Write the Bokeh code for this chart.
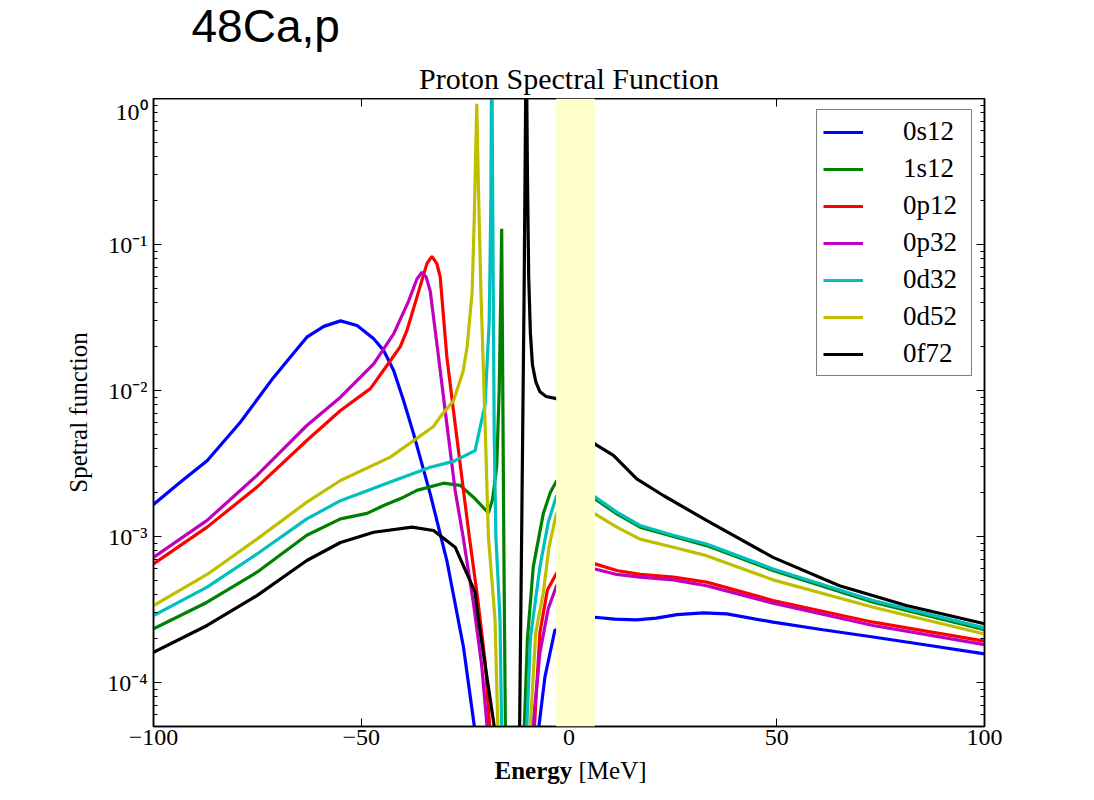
from bokeh.plotting import figure
from bokeh.layouts import column
from bokeh.models import (FixedTicker, LinearAxis, LogAxis, BoxAnnotation,
                          Legend, LegendItem, CustomJSTickFormatter)
from bokeh.core.properties import value
from bokeh.embed import file_html
from bokeh.resources import INLINE

# ---------------- data ----------------
names = ["0s12", "1s12", "0p12", "0p32", "0d32", "0d52", "0f72"]
colors = ["#0000ff", "#008000", "#ff0000", "#bf00bf", "#00bfbf", "#bfbf00", "#000000"]

e_0s12 = [-100, -93.5, -87.1, -79.1, -71.1, -67.1, -63.1, -59, -55, -51, -47, -44.6, -42.2,
          -39.8, -37.4, -33.4, -29.4, -25.4, -22.6, -15, -7.4, -5.8, -3.4, 6.25, 11, 16.3, 21,
          26, 32.3, 38, 49.1, 61.1, 73.2, 86.4, 100]
v_0s12 = [1.66e-3, 2.36e-3, 3.3e-3, 6.07e-3, 1.23e-2, 1.69e-2, 2.32e-2, 2.75e-2, 3.0e-2,
          2.79e-2, 2.26e-2, 1.88e-2, 1.37e-2, 8.5e-3, 5.05e-3, 1.96e-3, 6.85e-4, 1.75e-4,
          4.6e-5, 1e-7, 4.6e-5, 1.09e-4, 2.28e-4, 2.8e-4, 2.72e-4, 2.69e-4, 2.76e-4, 2.92e-4,
          3.0e-4, 2.95e-4, 2.59e-4, 2.3e-4, 2.05e-4, 1.8e-4, 1.57e-4]

e_1s12 = [-100, -87.1, -75.1, -63.1, -55, -48.6, -44.6, -39.8, -36.6, -30.2, -26.2, -23, -19.4,
          -18.4, -17.4, -16.8, -16.4, -16.2, -16.0, -15.7, -15.3, -13, -10.8, -10.0, -8.6, -6.2,
          -4.5, -3.0, 6.25, 11.5, 17.1, 25.1, 33.1, 49.1, 73.2, 100]
v_1s12 = [2.33e-4, 3.55e-4, 5.7e-4, 1.02e-3, 1.32e-3, 1.44e-3, 1.63e-3, 1.86e-3, 2.07e-3,
          2.32e-3, 2.24e-3, 1.86e-3, 1.45e-3, 1.8e-3, 3e-3, 1e-2, 5e-2, 0.128, 2e-2, 1e-3,
          4.6e-5, 1e-7, 4.6e-5, 2e-4, 6.2e-4, 1.43e-3, 2.0e-3, 2.4e-3, 1.81e-3, 1.43e-3,
          1.16e-3, 1.0e-3, 8.67e-4, 5.85e-4, 3.55e-4, 2.3e-4]

e_0p12 = [-100, -87.1, -75.1, -63.1, -55, -47.8, -43, -40.6, -39, -36.6, -34.2, -33.0, -31.8,
          -31.0, -29.4, -27.4, -25.4, -24.0, -22.0, -20.2, -19.0, -13.7, -8.4, -7.0, -5.2, -3.0,
          6.25, 11.5, 17.1, 25.1, 33.1, 49.1, 73.2, 100]
v_0p12 = [6.5e-4, 1.16e-3, 2.18e-3, 4.55e-3, 7.3e-3, 1.03e-2, 1.6e-2, 2.0e-2, 2.58e-2, 4.36e-2,
          0.074, 0.083, 0.074, 0.06, 0.017, 5.9e-3, 2.07e-3, 1.0e-3, 3.8e-4, 1.4e-4, 4.6e-5,
          1e-7, 4.6e-5, 2.2e-4, 4.3e-4, 5.6e-4, 6.5e-4, 5.85e-4, 5.5e-4, 5.27e-4, 4.87e-4,
          3.65e-4, 2.59e-4, 1.92e-4]

e_0p32 = [-100, -87.1, -75.1, -63.1, -55, -47, -42.2, -38.6, -36.6, -35.4, -34.4, -33.4, -31.4,
          -29.4, -27.4, -25.5, -23.0, -21.0, -19.6, -14.2, -8.8, -7.0, -5.0, -3.0, 6.25, 11.5,
          17.1, 25.1, 33.1, 49.1, 73.2, 100]
v_0p32 = [7.2e-4, 1.29e-3, 2.62e-3, 5.76e-3, 9.0e-3, 1.52e-2, 2.44e-2, 4.1e-2, 0.058, 0.0645,
          0.06, 0.048, 0.017, 5.9e-3, 2.07e-3, 1.0e-3, 3.5e-4, 1.3e-4, 4.6e-5, 1e-7, 4.6e-5,
          1.6e-4, 3.2e-4, 4.6e-4, 6.0e-4, 5.5e-4, 5.27e-4, 5.05e-4, 4.6e-4, 3.5e-4, 2.46e-4,
          1.82e-4]

e_0d32 = [-100, -87.1, -75.1, -63.1, -55, -43, -33.4, -27.8, -22.6, -20.2, -19.2, -18.8, -18.6,
          -18.3, -18.0, -17.6, -16.6, -16.2, -13.2, -10.2, -9.3, -7.0, -5.0, -3.0, 6.25, 11.5,
          17.1, 25.1, 33.1, 49.1, 73.2, 100]
v_0d32 = [2.88e-4, 4.5e-4, 7.6e-4, 1.32e-3, 1.76e-3, 2.36e-3, 2.98e-3, 3.27e-3, 3.88e-3, 8e-3,
          0.03, 0.2, 3.0, 0.1, 5e-3, 1e-3, 2.7e-4, 4.6e-5, 1e-7, 4.6e-5, 2e-4, 6.2e-4, 1.25e-3,
          1.9e-3, 1.87e-3, 1.47e-3, 1.19e-3, 1.02e-3, 8.9e-4, 6.0e-4, 3.65e-4, 2.37e-4]

e_0d52 = [-100, -87.1, -75.1, -63.1, -55, -43, -32.6, -31, -27.8, -25.5, -24.5, -23.3, -22.8,
          -22.2, -21.8, -21.2, -20.2, -19.4, -17.8, -17.1, -13.2, -9.4, -8.0, -6.2, -4.8, -3.0,
          6.25, 11.5, 17.1, 25.1, 33.1, 49.1, 73.2, 100]
v_0d52 = [3.37e-4, 5.5e-4, 9.6e-4, 1.72e-3, 2.42e-3, 3.5e-3, 5.67e-3, 6.6e-3, 8.5e-3, 1.35e-2,
          2e-2, 4.8e-2, 0.15, 0.92, 0.25, 0.048, 6e-3, 1e-3, 2.7e-4, 4.6e-5, 1e-7, 4.6e-5,
          2.2e-4, 4.1e-4, 8.5e-4, 1.45e-3, 1.43e-3, 1.16e-3, 9.6e-4, 8.45e-4, 7.4e-4, 5.05e-4,
          3.28e-4, 2.15e-4]

e_0f72 = [-100, -87.1, -75.1, -63.1, -55, -47, -37.8, -32.6, -27.4, -22.6, -21.8, -17.8, -14.8,
          -11.9, -11.4, -10.8, -10.3, -10.0, -9.7, -9.3, -8.8, -8.0, -7.0, -5.5, -3.0, 6.25,
          10.7, 16.3, 22.7, 33.1, 49.1, 65.1, 81.2, 100]
v_0f72 = [1.61e-4, 2.46e-4, 3.94e-4, 6.85e-4, 9.1e-4, 1.07e-3, 1.16e-3, 1.1e-3, 8.45e-4,
          4.16e-4, 2.7e-4, 4.6e-5, 1e-7, 4.6e-5, 1e-3, 4.8e-2, 3.0, 0.3, 0.06, 0.025, 0.015,
          0.0115, 9.8e-3, 9.1e-3, 8.8e-3, 4.3e-3, 3.59e-3, 2.48e-3, 1.91e-3, 1.29e-3, 7.2e-4,
          4.6e-4, 3.37e-4, 2.53e-4]

energies = [e_0s12, e_1s12, e_0p12, e_0p32, e_0d32, e_0d52, e_0f72]
values = [v_0s12, v_1s12, v_0p12, v_0p32, v_0d32, v_0d52, v_0f72]

x_ticks = [-100, -50, 0, 50, 100]
y_ticks = [1e-4, 1e-3, 1e-2, 1e-1, 1.0]
band_left, band_right = -3.1, 6.25

fig_title = "48Ca,p"
plot_title = "Proton Spectral Function"
x_label_bold, x_label_unit = "Energy", "[MeV]"
y_label = "Spetral function"

# ---------------- layout constants ----------------
SERIF = "Liberation Serif"
FL, FW, FR = 153, 831, 102      # frame left border, frame width, right border (px)
FH = 628
TOP_H = 98
MAIN_BOTTOM = 30
BOT_H = 42


def strip(height):
    s = figure(title=None, frame_width=FW, frame_height=height,
               min_border_left=FL, min_border_right=FR, min_border_top=0, min_border_bottom=0,
               x_range=(FL, FL + FW), y_range=(0, height),
               output_backend="svg", toolbar_location=None,
               x_axis_location=None, y_axis_location=None, outline_line_color=None,
               border_fill_color="white", background_fill_color="white")
    s.grid.visible = False
    return s


# ---------------- top strip (titles) ----------------
t = strip(TOP_H)
t.text(x=[191], y=[TOP_H - 25], text=[fig_title], text_font=value("Liberation Sans"),
       text_font_size="46px", text_color="black", text_align="left",
       text_baseline="middle")
t.text(x=[568.5], y=[TOP_H - 78], text=[plot_title], text_font=value(SERIF),
       text_font_size="30px", text_color="black", text_align="center",
       text_baseline="middle")

# ---------------- main plot ----------------
p = figure(title=None, frame_width=FW, frame_height=FH, x_range=(-100, 100),
           y_range=(5e-5, 1), y_axis_type="log", output_backend="svg", toolbar_location=None,
           min_border_left=FL, min_border_right=FR, min_border_top=0,
           min_border_bottom=MAIN_BOTTOM,
           background_fill_color="white", border_fill_color="white")
p.grid.visible = False
p.outline_line_color = "black"
p.outline_line_width = 1.5

minor = []
for d in [-5, -4, -3, -2, -1]:
    for k in range(2, 10):
        minor.append(k * 10.0 ** d)
xticker = FixedTicker(ticks=x_ticks, minor_ticks=[])
yticker = FixedTicker(ticks=y_ticks, minor_ticks=minor)

xfmt = CustomJSTickFormatter(code="return tick < 0 ? '\\u2212' + Math.abs(tick) : String(tick);")
yfmt = CustomJSTickFormatter(code="""
const sup = {'-':'\\u207b','0':'\\u2070','1':'\\u00b9','2':'\\u00b2','3':'\\u00b3','4':'\\u2074',
             '5':'\\u2075','6':'\\u2076','7':'\\u2077','8':'\\u2078','9':'\\u2079'};
const e = Math.round(Math.log10(tick));
return '10' + String(e).split('').map(c => sup[c]).join('');
""")
empty = CustomJSTickFormatter(code="return '';")


def style(ax):
    ax.axis_line_color = "black"
    ax.axis_line_width = 1.5
    ax.major_tick_in = 8
    ax.major_tick_out = 0
    ax.minor_tick_in = 4
    ax.minor_tick_out = 0
    ax.major_tick_line_color = "black"
    ax.minor_tick_line_color = "black"
    ax.major_tick_line_width = 1
    ax.minor_tick_line_width = 1
    ax.major_label_text_font = SERIF
    ax.major_label_text_font_size = "24px"
    ax.major_label_text_color = "black"


xa = p.xaxis[0]
xa.ticker = xticker
xa.formatter = xfmt
style(xa)
xa.major_label_standoff = 3

ya = p.yaxis[0]
ya.ticker = yticker
ya.formatter = yfmt
style(ya)
ya.major_label_standoff = 6
ya.axis_label = y_label
ya.axis_label_text_font = SERIF
ya.axis_label_text_font_size = "25px"
ya.axis_label_text_font_style = "normal"
ya.axis_label_text_color = "black"
ya.axis_label_standoff = 12

top_ax = LinearAxis(ticker=xticker, formatter=empty)
style(top_ax)
top_ax.major_label_text_font_size = "0px"
top_ax.major_label_standoff = 0
p.add_layout(top_ax, "above")
right_ax = LogAxis(ticker=yticker, formatter=empty)
style(right_ax)
right_ax.major_label_text_font_size = "0px"
right_ax.major_label_standoff = 0
p.add_layout(right_ax, "right")

renderers = []
for e, v, c in zip(energies, values, colors):
    renderers.append(p.line(e, v, line_color=c, line_width=3.2))

# shaded band
p.add_layout(BoxAnnotation(left=band_left, right=band_right, fill_color="#ffffcc",
                           fill_alpha=1.0, line_alpha=0))

legend = Legend(items=[LegendItem(label=n, renderers=[r]) for n, r in zip(names, renderers)],
                location=(663, 350), margin=0, padding=6, spacing=6,
                glyph_width=40, glyph_height=30, label_height=30, label_width=62,
                label_standoff=40, label_text_font=SERIF, label_text_font_size="27px",
                label_text_color="black",
                border_line_color="black", border_line_width=1.5,
                background_fill_color="white", background_fill_alpha=1.0)
p.add_layout(legend)

# ---------------- bottom strip (x label) ----------------
b = strip(BOT_H)
b.text(x=[494], y=[BOT_H - 14], text=[x_label_bold], text_font=value(SERIF),
       text_font_size="25px", text_font_style="bold", text_color="black",
       text_align="left", text_baseline="middle")
b.text(x=[578], y=[BOT_H - 14], text=[x_label_unit], text_font=value(SERIF),
       text_font_size="25px", text_color="black", text_align="left",
       text_baseline="middle")

layout = column(t, p, b, spacing=0)
open("out.html", "w").write(file_html(layout, INLINE))
